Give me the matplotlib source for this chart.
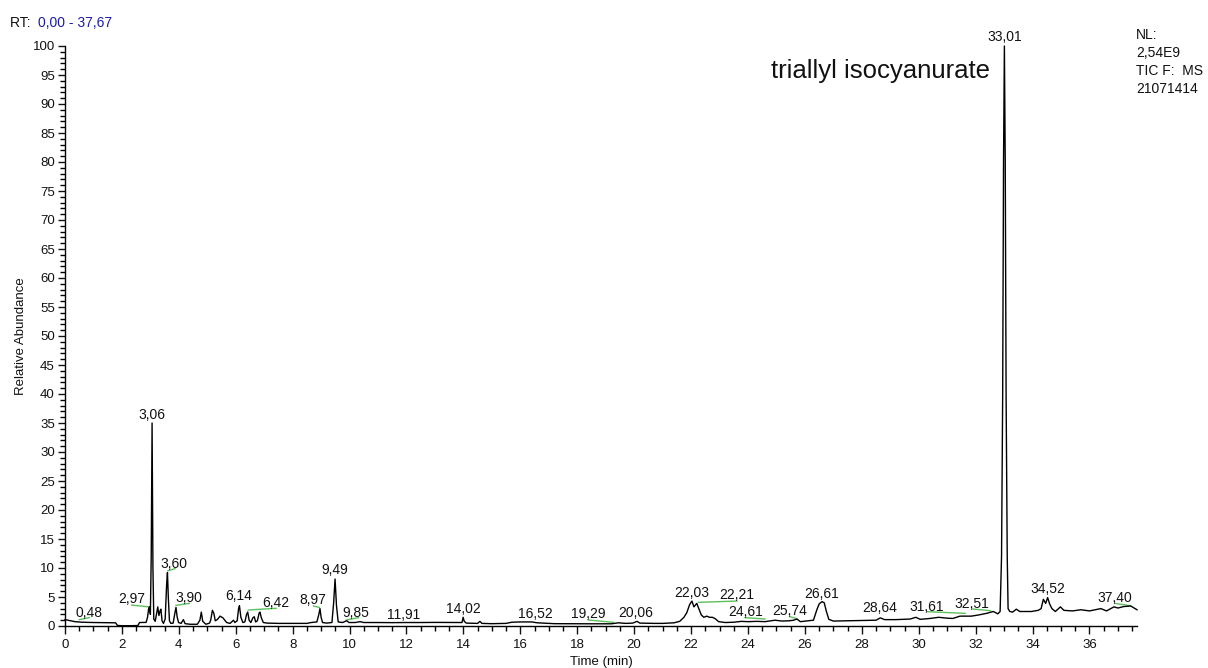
import matplotlib
matplotlib.use("Agg")
import matplotlib.pyplot as plt
from matplotlib.ticker import MultipleLocator

plt.rcParams['font.family'] = ['Liberation Sans', 'DejaVu Sans']

# ---- chromatogram trace (time in min, relative abundance %) ----
time_min = [0.00, 0.15, 0.35, 0.60, 1.00, 1.50, 1.78, 1.84, 2.00, 2.30, 2.56, 2.62, 2.85, 2.90, 2.94,
            2.97, 3.00, 3.03, 3.06, 3.09, 3.12, 3.17, 3.22, 3.26, 3.30, 3.34, 3.37, 3.41, 3.46, 3.52,
            3.57, 3.60, 3.63, 3.67, 3.72, 3.80, 3.86, 3.90, 3.94, 3.99, 4.08, 4.16, 4.22, 4.40, 4.65,
            4.74, 4.79, 4.84, 4.95, 5.08, 5.12, 5.18, 5.23, 5.28, 5.35, 5.45, 5.55, 5.68, 5.80, 5.88,
            5.92, 5.97, 6.05, 6.10, 6.13, 6.18, 6.25, 6.32, 6.38, 6.42, 6.47, 6.53, 6.60, 6.65, 6.70,
            6.76, 6.82, 6.85, 6.90, 6.97, 7.10, 7.50, 8.00, 8.50, 8.65, 8.85, 8.92, 8.96, 9.00, 9.05,
            9.20, 9.38, 9.44, 9.49, 9.54, 9.60, 9.75, 9.90, 9.98, 10.20, 10.37, 10.50, 11.00, 11.50,
            12.00, 12.50, 13.00, 13.50, 13.95, 13.99, 14.03, 14.10, 14.50, 14.58, 14.65, 15.00, 15.50,
            15.70, 16.00, 16.40, 16.60, 17.00, 17.20, 18.00, 18.50, 19.20, 19.45, 19.70, 19.95, 20.10,
            20.20, 20.70, 21.00, 21.40, 21.60, 21.75, 21.85, 21.95, 22.03, 22.10, 22.20, 22.28, 22.36,
            22.45, 22.55, 22.65, 22.75, 22.85, 22.97, 23.20, 23.50, 23.77, 24.00, 24.30, 24.60, 24.95,
            25.20, 25.45, 25.60, 25.72, 25.84, 26.10, 26.30, 26.42, 26.50, 26.60, 26.68, 26.75, 26.84,
            27.00, 27.50, 28.00, 28.50, 28.65, 28.80, 29.20, 29.70, 29.90, 30.05, 30.40, 30.70, 31.00,
            31.20, 31.45, 31.85, 32.10, 32.40, 32.62, 32.78, 32.86, 32.91, 32.95, 32.98, 33.01, 33.04,
            33.07, 33.11, 33.14, 33.20, 33.30, 33.43, 33.55, 33.96, 34.20, 34.30, 34.38, 34.46, 34.53,
            34.60, 34.68, 34.80, 34.98, 35.10, 35.40, 35.70, 36.00, 36.40, 36.60, 36.86, 37.00, 37.20,
            37.45, 37.67]
abundance = [1.10, 0.95, 0.75, 0.65, 0.60, 0.58, 0.55, 0.10, 0.05, 0.05, 0.08, 0.60, 0.62, 1.50, 3.00,
             3.30, 2.00, 12.0, 35.0, 10.0, 1.2, 0.8, 2.2, 3.3, 1.8, 2.6, 2.9, 0.9, 0.45, 1.2,
             7.0, 9.2, 5.0, 0.9, 0.45, 0.5, 2.2, 3.2, 1.6, 0.6, 0.45, 1.1, 0.4, 0.3, 0.3,
             1.0, 2.4, 0.8, 0.3, 0.5, 1.0, 2.7, 2.2, 0.9, 1.1, 1.7, 1.4, 0.6, 0.45, 0.8,
             1.0, 0.6, 0.9, 3.0, 3.5, 1.5, 0.6, 0.7, 2.0, 2.4, 1.0, 0.6, 1.4, 1.6, 0.7,
             0.9, 2.2, 2.4, 1.4, 0.6, 0.5, 0.45, 0.45, 0.45, 0.6, 0.7, 2.0, 3.0, 1.5, 0.6,
             0.5, 0.6, 4.0, 8.1, 3.5, 0.7, 0.6, 0.9, 0.6, 0.6, 0.75, 0.6, 0.6, 0.58,
             0.6, 0.6, 0.62, 0.6, 0.6, 1.5, 0.8, 0.5, 0.45, 0.8, 0.45, 0.4, 0.45,
             0.65, 0.7, 0.7, 0.55, 0.45, 0.4, 0.38, 0.38, 0.38, 0.55, 0.45, 0.5, 0.8,
             0.5, 0.45, 0.45, 0.55, 0.8, 1.5, 2.3, 3.7, 4.3, 3.3, 3.9, 2.9, 1.9,
             1.5, 1.7, 1.5, 1.5, 1.25, 0.75, 0.6, 0.65, 0.8, 0.75, 0.8, 0.75, 1.0,
             0.85, 0.9, 1.0, 1.2, 0.75, 0.9, 1.0, 2.8, 3.8, 4.2, 4.0, 2.6, 1.15,
             0.85, 0.9, 0.95, 1.0, 1.4, 1.1, 1.1, 1.2, 1.5, 1.15, 1.3, 1.5, 1.35,
             1.3, 1.7, 1.7, 1.9, 2.2, 2.5, 2.1, 2.5, 12.0, 40.0, 80.0, 100.0, 80.0,
             40.0, 12.0, 3.0, 2.5, 2.4, 2.9, 2.5, 2.5, 2.7, 3.0, 4.6, 3.9, 4.9,
             3.8, 3.0, 2.5, 3.3, 2.7, 2.6, 2.8, 2.6, 3.0, 2.6, 3.3, 3.1, 3.35,
             3.45, 2.8]

# ---- peak labels ----
peak_labels = ["0,48", "2,97", "3,06", "3,60", "3,90", "6,14", "6,42", "8,97", "9,49", "9,85",
               "11,91", "14,02", "16,52", "19,29", "20,06", "22,03", "22,21", "24,61", "25,74",
               "26,61", "28,64", "31,61", "32,51", "33,01", "34,52", "37,40"]
label_x = [0.86, 2.34, 3.05, 3.83, 4.36, 6.12, 7.42, 8.70, 9.49, 10.23,
           11.89, 14.00, 16.52, 18.39, 20.04, 22.03, 23.61, 23.90, 25.48,
           26.60, 28.62, 30.29, 31.87, 33.01, 34.54, 36.88]
label_y = [2.2, 4.6, 36.4, 10.7, 4.8, 5.1, 4.0, 4.5, 9.65, 2.2,
           1.9, 3.0, 2.07, 2.07, 2.3, 5.75, 5.34, 2.47, 2.6,
           5.6, 3.05, 3.33, 3.74, 101.6, 6.3, 4.77]

# ---- green label leader segments ----
leader_x0 = [0.50, 2.34, 3.61, 3.90, 6.44, 8.73, 9.88, 18.39, 22.26, 23.90, 25.48, 30.29, 31.90, 36.90]
leader_y0 = [1.10, 3.60, 9.50, 3.56, 2.76, 3.45, 1.03, 1.03, 4.08, 1.44, 1.60, 2.47, 2.93, 3.90]
leader_x1 = [0.86, 2.96, 3.87, 4.37, 7.42, 8.94, 10.31, 19.27, 23.61, 24.60, 25.72, 31.63, 32.51, 37.43]
leader_y1 = [1.45, 3.30, 9.90, 3.90, 3.05, 3.20, 1.44, 0.63, 4.30, 1.20, 1.26, 2.18, 2.64, 3.50]

W, H = 1208, 668
fig = plt.figure(figsize=(W / 100, H / 100), dpi=100)
ax = fig.add_axes([65 / W, 1 - 626 / H, (1137 - 65) / W, (626 - 46) / H])

for x0, y0, x1, y1 in zip(leader_x0, leader_y0, leader_x1, leader_y1):
    ax.plot([x0, x1], [y0, y1], color='#5cc05c', lw=1.0, clip_on=False, zorder=2)

ax.plot(time_min, abundance, color='black', lw=1.0, zorder=3, clip_on=False)

for txt, lx, ly in zip(peak_labels, label_x, label_y):
    ax.text(lx, ly, txt, ha='center', va='center', fontsize=10, color='#111111',
            clip_on=False, zorder=4)

ax.text(32.51, 94.4, "triallyl isocyanurate", ha='right', va='baseline', fontsize=18.5,
        color='#111111')

ax.set_xlim(0, 37.67)
ax.set_ylim(0, 100)
for s in ['top', 'right']:
    ax.spines[s].set_visible(False)
for s in ['left', 'bottom']:
    ax.spines[s].set_linewidth(1.0)
    ax.spines[s].set_color('black')

ax.xaxis.set_major_locator(MultipleLocator(2))
ax.xaxis.set_minor_locator(MultipleLocator(0.5))
ax.yaxis.set_major_locator(MultipleLocator(5))
ax.yaxis.set_minor_locator(MultipleLocator(1))
ax.tick_params(axis='both', which='major', direction='out', length=5.4, width=1.0,
               labelsize=9.5, colors='#111111')
ax.tick_params(axis='both', which='minor', direction='out', length=3.6, width=1.0)
ax.tick_params(axis='x', which='major', pad=4)
ax.tick_params(axis='y', which='major', pad=2)

ax.set_xlabel("Time (min)", fontsize=9.5, color='#111111')
ax.xaxis.set_label_coords(0.5, (626 - 661.7) / 580)
ax.xaxis.label.set_va('center')
ax.set_ylabel("Relative Abundance", fontsize=9.5, color='#111111')
ax.yaxis.set_label_coords((21 - 65) / 1072, 0.5)
ax.yaxis.label.set_va('center')

# header texts
t1 = fig.text(10 / W, 1 - 26.7 / H, "RT: ", fontsize=10, color='#111111', va='baseline', ha='left')
fig.text(37.5 / W, 1 - 26.7 / H, "0,00 - 37,67", fontsize=10, color='#1c1ca8', va='baseline', ha='left')

nl_lines = ["NL:", "2,54E9", "TIC F:  MS", "21071414"]
nl_y = [35, 53, 71, 89]
for line, yy in zip(nl_lines, nl_y):
    fig.text(1136 / W, 1 - yy / H, line, fontsize=10, color='#111111', va='center', ha='left')

fig.savefig("out.png", dpi=100)
